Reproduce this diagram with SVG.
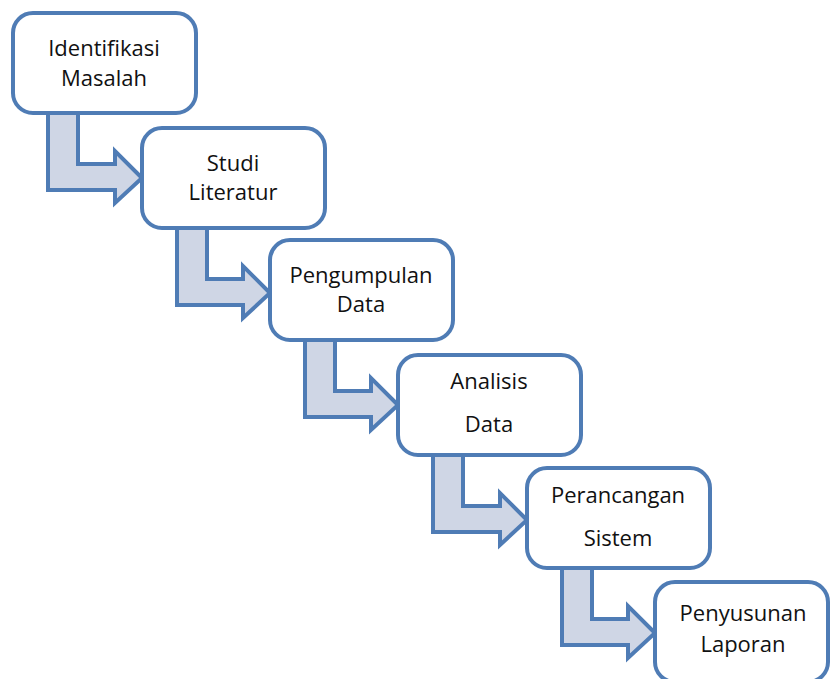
<svg xmlns="http://www.w3.org/2000/svg" width="830" height="679" viewBox="0 0 830 679">
<style>
.box{fill:#ffffff;stroke:#4f7cb5;stroke-width:4}
.arr{fill:#cfd6e5;stroke:#4f7cb5;stroke-width:4;stroke-linejoin:miter}
text{font-family:"Open Sans","Noto Sans",sans-serif;font-size:22px;fill:#111111;text-anchor:middle}
</style>
<rect width="830" height="679" fill="#ffffff"/>
<g id="connectors">
<polygon class="arr" points="48,111 48,190 115,190 115,203 142,178 115,151 115,164 78,164 78,111"/>
<polygon class="arr" points="177,226 177,305 243,305 243,318 270,293 243,266 243,279 207,279 207,226"/>
<polygon class="arr" points="305,338 305,417 371,417 371,430 398,405 371,378 371,391 335,391 335,338"/>
<polygon class="arr" points="433,453 433,532 500,532 500,545 527,520 500,493 500,506 463,506 463,453"/>
<polygon class="arr" points="562,566 562,645 628,645 628,658 655,633 628,606 628,619 592,619 592,566"/>
</g>
<g id="n1"><rect class="box" x="13" y="13" width="183" height="100" rx="20"/><text x="104" y="56">Identifikasi</text><text x="104" y="86">Masalah</text></g>
<g id="n2"><rect class="box" x="142" y="128" width="183" height="100" rx="20"/><text x="233" y="171">Studi</text><text x="233" y="200">Literatur</text></g>
<g id="n3"><rect class="box" x="270" y="240" width="183" height="100" rx="20"/><text x="361" y="283">Pengumpulan</text><text x="361" y="312">Data</text></g>
<g id="n4"><rect class="box" x="398" y="355" width="183" height="100" rx="20"/><text x="489" y="389">Analisis</text><text x="489" y="432">Data</text></g>
<g id="n5"><rect class="box" x="527" y="468" width="183" height="100" rx="20"/><text x="618" y="503">Perancangan</text><text x="618" y="546">Sistem</text></g>
<g id="n6"><rect class="box" x="655" y="582" width="173" height="100" rx="20"/><text x="743" y="621">Penyusunan</text><text x="743" y="652">Laporan</text></g>
</svg>
